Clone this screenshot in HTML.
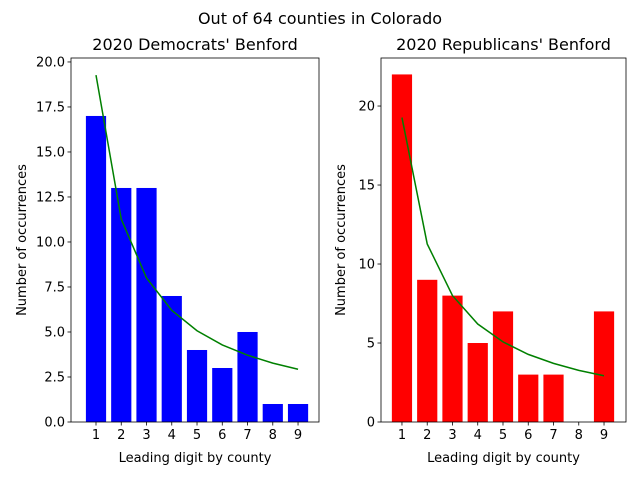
<!DOCTYPE html>
<html><head><meta charset="utf-8"><style>
body{margin:0;background:#fff}
svg text{font-family:"DejaVu Sans","Liberation Sans",sans-serif;fill:#000}
</style></head><body>
<svg id="fig" width="640" height="480">
<rect width="640" height="480" fill="#fff"/>
<text x="320" y="24" font-size="16" text-anchor="middle">Out of 64 counties in Colorado</text>
</svg>
<script>
const digits=[1,2,3,4,5,6,7,8,9];
const demValues=[17,13,13,7,4,3,5,1,1];
const repValues=[22,9,8,5,7,3,3,0,7];
const benford=[19.27,11.27,8.0,6.2,5.07,4.28,3.71,3.27,2.93];
const demTicks=[0,2.5,5,7.5,10,12.5,15,17.5,20];
const demTickLabels=["0.0","2.5","5.0","7.5","10.0","12.5","15.0","17.5","20.0"];
const repTicks=[0,5,10,15,20];
const repTickLabels=["0","5","10","15","20"];
const NS="http://www.w3.org/2000/svg";
const svg=document.getElementById('fig');
function mk(tag,attrs,parent){const e=document.createElementNS(NS,tag);for(const k in attrs)e.setAttribute(k,attrs[k]);(parent||svg).appendChild(e);return e;}
function panel(cfg){
  const g=mk('g',{});
  
  
  const X=v=>cfg.x0+(v-cfg.xmin)/(cfg.xmax-cfg.xmin)*(cfg.x1-cfg.x0);
  const Y=v=>cfg.y1-(v-0)/(cfg.ymax)*(cfg.y1-cfg.y0);
  cfg.values.forEach((v,i)=>{
    const d=digits[i];
    const r=mk('rect',{x:X(d-0.4),y:Y(v),width:X(d+0.4)-X(d-0.4),height:Y(0)-Y(v),fill:cfg.color},g);
    
    
  });
  const pts=benford.map((v,i)=>X(digits[i])+','+Y(v)).join(' ');
  const pl=mk('polyline',{points:pts,fill:'none',stroke:'green','stroke-width':1.5},g);
  
  
  const fr=mk('rect',{x:cfg.x0,y:cfg.y0,width:cfg.x1-cfg.x0,height:cfg.y1-cfg.y0,fill:'none',stroke:'#000','stroke-width':0.8},g);
  
  
  digits.forEach(d=>{
    mk('line',{x1:X(d),x2:X(d),y1:cfg.y1,y2:cfg.y1+3.5,stroke:'#000','stroke-width':0.8},g);
    const t=mk('text',{x:X(d),y:cfg.y1+17,'font-size':13,'text-anchor':'middle'},g);
    t.textContent=d;
    
    
  });
  cfg.ticks.forEach((v,i)=>{
    mk('line',{x1:cfg.x0-3.5,x2:cfg.x0,y1:Y(v),y2:Y(v),stroke:'#000','stroke-width':0.8},g);
    const t=mk('text',{x:cfg.x0-6,y:Y(v)+4.5,'font-size':13,'text-anchor':'end'},g);
    t.textContent=cfg.tickLabels[i];
    
    
  });
  const xl=mk('text',{x:(cfg.x0+cfg.x1)/2,y:462,'font-size':13,'text-anchor':'middle'},g);
  xl.textContent='Leading digit by county';
  
  
  const yx=cfg.ylabX, yy=(cfg.y0+cfg.y1)/2;
  const yl=mk('text',{x:yx,y:yy,'font-size':13,'text-anchor':'middle',transform:`rotate(-90 ${yx} ${yy})`},g);
  yl.textContent='Number of occurrences';
  
  
  const tt=mk('text',{x:(cfg.x0+cfg.x1)/2,y:50,'font-size':16,'text-anchor':'middle'},g);
  tt.textContent=cfg.title;
  
  
}
panel({name:'democrats-panel',x0:71,x1:319,y0:58,y1:422,xmin:0.01,xmax:9.83,ymax:20.22,values:demValues,color:'blue',ticks:demTicks,tickLabels:demTickLabels,title:"2020 Democrats' Benford",ylabX:26});
panel({name:'republicans-panel',x0:381,x1:626,y0:58,y1:422,xmin:0.17,xmax:9.87,ymax:23.04,values:repValues,color:'red',ticks:repTicks,tickLabels:repTickLabels,title:"2020 Republicans' Benford",ylabX:345});
</script>
</body></html>
